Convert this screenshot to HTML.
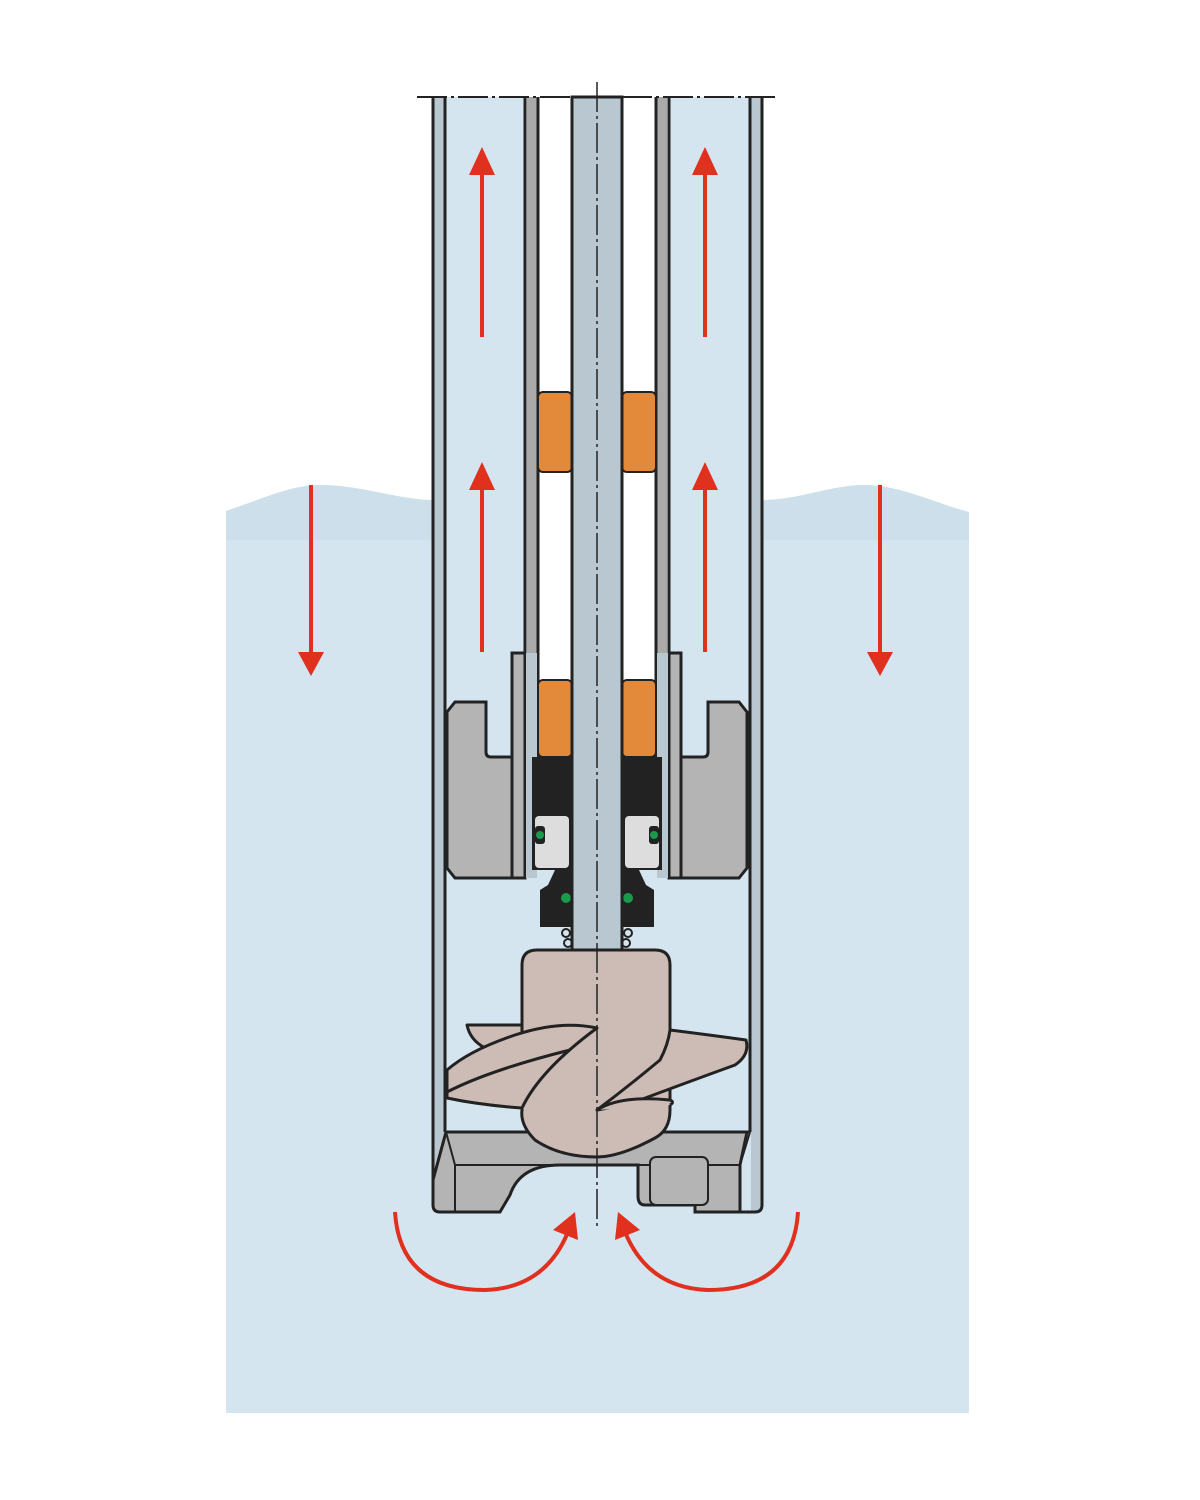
<!DOCTYPE html>
<html><head><style>html,body{margin:0;padding:0;background:#fff}svg{display:block}</style></head>
<body>
<svg width="1200" height="1500" viewBox="0 0 1200 1500" xmlns="http://www.w3.org/2000/svg">
<defs>
<marker id="ah" viewBox="0 0 10 10" refX="5" refY="5" markerWidth="6" markerHeight="6" orient="auto"><path d="M0,0 L10,5 L0,10 z" fill="#e0301e"/></marker>
</defs>
<!-- water -->
<path d="M226,511 C260,500 290,485 320,485 C360,485 400,500 433,500 L433,1413 L226,1413 Z" fill="#d5e5f0"/>
<path d="M762,500 C800,500 830,485 865,485 C900,485 940,505 969,512 L969,1413 L762,1413 Z" fill="#d5e5f0"/>
<path d="M226,511 C260,500 290,485 320,485 C360,485 400,500 433,500 L433,540 L226,540 Z" fill="#cddfeb"/>
<path d="M762,500 C800,500 830,485 865,485 C900,485 940,505 969,512 L969,540 L762,540 Z" fill="#cddfeb"/>
<rect x="433" y="1212" width="329" height="201" fill="#d5e5f0"/>
<!-- inside pipe -->
<rect x="433" y="97" width="329" height="1115" fill="#d5e5f0"/>
<!-- outer pipe walls -->
<rect x="434" y="97" width="10" height="1115" fill="#b9c8d0"/>
<rect x="751" y="97" width="10" height="1115" fill="#b9c8d0"/>
<g stroke="#222" stroke-width="3">
<line x1="433" y1="97" x2="433" y2="1205"/><line x1="445" y1="97" x2="445" y2="1132"/>
<line x1="762" y1="97" x2="762" y2="1205"/><line x1="750" y1="97" x2="750" y2="1132"/>
</g>
<!-- inner column -->
<rect x="527" y="97" width="10" height="556" fill="#aaa"/>
<rect x="657" y="97" width="10" height="556" fill="#aaa"/>
<rect x="538" y="97" width="34" height="590" fill="#fff"/>
<rect x="622" y="97" width="34" height="590" fill="#fff"/>
<g stroke="#222" stroke-width="3">
<line x1="525" y1="97" x2="525" y2="653"/><line x1="538" y1="97" x2="538" y2="757"/>
<line x1="669" y1="97" x2="669" y2="653"/><line x1="656" y1="97" x2="656" y2="757"/>
</g>
<!-- sleeve -->
<rect x="512" y="653" width="13" height="225" fill="#b4b4b4" stroke="#222" stroke-width="3"/>
<rect x="669" y="653" width="12" height="225" fill="#b4b4b4" stroke="#222" stroke-width="3"/>
<rect x="526" y="653" width="11" height="225" fill="#b9c8d0"/>
<rect x="657" y="653" width="11" height="225" fill="#b9c8d0"/>
<!-- flanges -->
<path d="M447,712 L455,702 L486,702 L486,752 Q486,757 491,757 L512,757 L512,878 L455,878 L447,868 Z" fill="#b4b4b4" stroke="#222" stroke-width="3"/>
<path d="M747,712 L739,702 L708,702 L708,752 Q708,757 703,757 L681,757 L681,878 L739,878 L747,868 Z" fill="#b4b4b4" stroke="#222" stroke-width="3"/>
<!-- bearings -->
<g fill="#e38a3a" stroke="#222" stroke-width="2">
<rect x="538" y="392" width="34" height="80" rx="5"/><rect x="622" y="392" width="34" height="80" rx="5"/>
<rect x="538" y="680" width="34" height="77" rx="5"/><rect x="622" y="680" width="34" height="77" rx="5"/>
</g>
<!-- seals -->
<rect x="532" y="757" width="40" height="113" fill="#222"/>
<rect x="622" y="757" width="40" height="113" fill="#222"/>
<rect x="535" y="816" width="34" height="52" rx="4" fill="#ddd"/>
<rect x="625" y="816" width="34" height="52" rx="4" fill="#ddd"/>
<rect x="535" y="826" width="10" height="18" rx="3" fill="#222"/><circle cx="540" cy="835" r="4" fill="#1a9a4a"/>
<rect x="649" y="826" width="10" height="18" rx="3" fill="#222"/><circle cx="654" cy="835" r="4" fill="#1a9a4a"/>
<path d="M555,870 L572,870 L572,927 L540,927 L540,890 L548,885 Z" fill="#222"/>
<path d="M639,870 L622,870 L622,927 L654,927 L654,890 L646,885 Z" fill="#222"/>
<circle cx="566" cy="898" r="5" fill="#1a9a4a"/><circle cx="628" cy="898" r="5" fill="#1a9a4a"/>
<g fill="none" stroke="#222" stroke-width="2">
<circle cx="566" cy="933" r="4"/><circle cx="568" cy="943" r="4"/><circle cx="628" cy="933" r="4"/><circle cx="626" cy="943" r="4"/>
</g>
<!-- shaft -->
<rect x="572" y="97" width="50" height="855" fill="#b9c8d0" stroke="#222" stroke-width="3"/>
<!-- bottom housing -->
<path d="M446,1132 L747,1132 L740,1165 L740,1212 L695,1212 L695,1205 L645,1205 Q638,1205 638,1196 L638,1165 L560,1165 Q520,1165 510,1195 L500,1212 L440,1212 Q433,1212 433,1205 L433,1180 Z" fill="#b4b4b4" stroke="#222" stroke-width="3"/>
<path d="M446,1132 L455,1165 L455,1212" fill="none" stroke="#222" stroke-width="2"/>
<line x1="455" y1="1165" x2="740" y2="1165" stroke="#222" stroke-width="2"/>
<path d="M750,1132 L740,1165" stroke="#222" stroke-width="2"/>
<rect x="650" y="1157" width="58" height="48" rx="6" fill="#b4b4b4" stroke="#222" stroke-width="2"/>
<path d="M762,1205 Q762,1212 755,1212 L740,1212" fill="none" stroke="#222" stroke-width="3"/>
<line x1="446" y1="1132" x2="750" y2="1132" stroke="#222" stroke-width="3"/>
<!-- impeller -->
<g fill="#cdbcb5" stroke="#222" stroke-width="3" stroke-linejoin="round">
<path d="M522,965 Q522,950 537,950 L655,950 Q670,950 670,965 L670,1110 Q670,1130 655,1138 Q620,1157 597,1157 Q560,1157 535,1140 Q520,1125 522,1110 Z"/>
<path d="M467,1025 L522,1025 L522,1040 Q500,1045 485,1048 Q470,1040 467,1025 Z"/>
<path d="M597,1028 Q560,1020 515,1035 Q470,1050 447,1070 L447,1098 Q480,1105 522,1108 Q540,1070 597,1028 Z"/>
<path d="M447,1092 Q490,1070 570,1050"/>
<path d="M670,1030 Q710,1035 746,1040 Q750,1055 735,1065 Q680,1085 640,1100 Q610,1108 597,1110 Q630,1085 660,1060 Q668,1045 670,1030 Z"/>
<path d="M597,1110 Q620,1095 670,1100 Q675,1102 670,1105"/>
</g>
<!-- centerlines -->
<line x1="597" y1="82" x2="597" y2="1228" stroke="#222" stroke-width="1.5" stroke-dasharray="30,4,3,4"/>
<line x1="417" y1="97" x2="776" y2="97" stroke="#222" stroke-width="2" stroke-dasharray="30,4,3,4"/>
<!-- arrows -->
<g stroke="#e0301e" stroke-width="4" fill="none">
<line x1="482" y1="337" x2="482" y2="172"/><line x1="705" y1="337" x2="705" y2="172"/>
<line x1="482" y1="652" x2="482" y2="487"/><line x1="705" y1="652" x2="705" y2="487"/>
<line x1="311" y1="485" x2="311" y2="655"/><line x1="880" y1="485" x2="880" y2="655"/>
<path d="M395,1212 Q400,1290 485,1290 Q545,1288 568,1232"/>
<path d="M798,1212 Q793,1290 708,1290 Q648,1288 625,1232"/>
</g>
<g fill="#e0301e">
<path d="M469,175 L482,147 L495,175 Z"/><path d="M692,175 L705,147 L718,175 Z"/>
<path d="M469,490 L482,462 L495,490 Z"/><path d="M692,490 L705,462 L718,490 Z"/>
<path d="M298,652 L311,676 L324,652 Z"/><path d="M867,652 L880,676 L893,652 Z"/>
<path d="M553,1230 L575,1212 L578,1240 Z"/><path d="M640,1230 L618,1212 L615,1240 Z"/>
</g>
</svg>
</body></html>
